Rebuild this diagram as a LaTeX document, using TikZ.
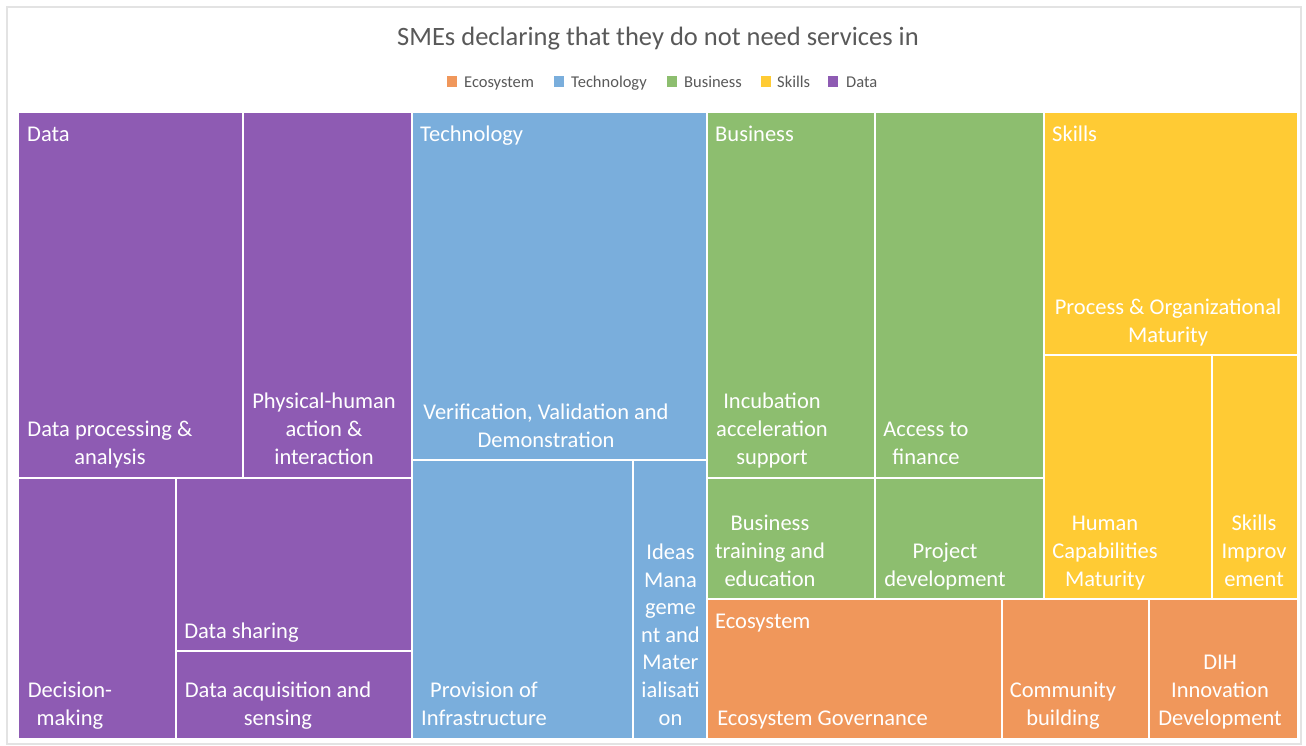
\documentclass[tikz,border=0pt]{standalone}
\usepackage{fontspec}
\setmainfont{Carlito}
\definecolor{cpurple}{HTML}{8E5BB3}
\definecolor{cblue}{HTML}{7AAEDC}
\definecolor{cgreen}{HTML}{8DBE6F}
\definecolor{cyellow}{HTML}{FFCB34}
\definecolor{corange}{HTML}{F0975B}
\definecolor{ctext}{HTML}{595959}
\definecolor{cframe}{HTML}{E3E3E3}
\begin{document}
\begin{tikzpicture}[x=1pt,y=-1pt,
  lbl/.style={anchor=base,align=center,inner sep=0pt,text=white,font=\fontsize{22.5}{27.6}\selectfont},
  cat/.style={anchor=base west,inner sep=0pt,text=white,font=\fontsize{22.5}{27.6}\selectfont},
  legtext/.style={anchor=base west,inner sep=0pt,text=ctext,font=\fontsize{16.5}{20}\selectfont},
  legsq/.style={minimum width=9.5pt,minimum height=11pt,inner sep=0pt,anchor=north west}]
\useasboundingbox (0,0) rectangle (1306,745);
\fill[white] (0,0) rectangle (1306,745);
\draw[cframe,line width=1.5pt] (7,7) rectangle (1301,744);
% title
\node[anchor=base,inner sep=0pt,text=ctext,font=\fontsize{26.5}{32}\selectfont] (title) at (658,45) {SMEs declaring that they do not need services in};
% legend
\node[legsq,fill=corange] (sqE) at (447,76) {};
\node[legtext] (lgE) at (464,87) {Ecosystem};
\node[legsq,fill=cblue] (sqT) at (554,76) {};
\node[legtext] (lgT) at (571,87) {Technology};
\node[legsq,fill=cgreen] (sqB) at (667,76) {};
\node[legtext] (lgB) at (684,87) {Business};
\node[legsq,fill=cyellow] (sqS) at (761,76) {};
\node[legtext] (lgS) at (777,87) {Skills};
\node[legsq,fill=cpurple] (sqD) at (828,76) {};
\node[legtext] (lgD) at (846,87) {Data};
% Data cells
\fill[cpurple] (19,113) rectangle (242,477);
\fill[cpurple] (244,113) rectangle (411,477);
\fill[cpurple] (19,479) rectangle (175,738);
\fill[cpurple] (177,479) rectangle (411,650);
\fill[cpurple] (177,652) rectangle (411,738);
% Technology cells
\fill[cblue] (413,113) rectangle (706,459);
\fill[cblue] (413,461) rectangle (632,738);
\fill[cblue] (634,461) rectangle (706,738);
% Business cells
\fill[cgreen] (708,113) rectangle (874,477);
\fill[cgreen] (876,113) rectangle (1043,477);
\fill[cgreen] (708,479) rectangle (874,598);
\fill[cgreen] (876,479) rectangle (1043,598);
% Skills cells
\fill[cyellow] (1045,113) rectangle (1297,354);
\fill[cyellow] (1045,356) rectangle (1211,598);
\fill[cyellow] (1213,356) rectangle (1297,598);
% Ecosystem cells
\fill[corange] (708,600) rectangle (1001,738);
\fill[corange] (1003,600) rectangle (1148,738);
\fill[corange] (1150,600) rectangle (1297,738);
% category labels
\node[cat] (cData) at (27,141) {Data};
\node[cat] (cTech) at (420,141) {Technology};
\node[cat] (cBus) at (715,141) {Business};
\node[cat] (cSkills) at (1052,141) {Skills};
\node[cat] (cEco) at (715,628) {Ecosystem};
% cell labels
\node[lbl] (l1) at (110,464) {Data processing \&\\analysis};
\node[lbl] (l2) at (324,464) {Physical-human\\action \&\\interaction};
\node[lbl] (l3) at (70,725) {Decision-\\making};
\node[lbl] (l4) at (241.5,638) {Data sharing};
\node[lbl] (l5) at (278,725) {Data acquisition and\\sensing};
\node[lbl] (l6) at (546,447) {Verification, Validation and\\Demonstration};
\node[lbl] (l7) at (484,725) {Provision of\\Infrastructure};
\node[lbl] (l8) at (670.5,725) {Ideas\\Mana\\geme\\nt and\\Mater\\ialisati\\on};
\node[lbl] (l9) at (772,464) {Incubation\\acceleration\\support};
\node[lbl] (l10) at (926,464) {Access to\\finance};
\node[lbl] (l11) at (770,586) {Business\\training and\\education};
\node[lbl] (l12) at (945,586) {Project\\development};
\node[lbl] (l13) at (1168,342) {Process \& Organizational\\Maturity};
\node[lbl] (l14) at (1105,586) {Human\\Capabilities\\Maturity};
\node[lbl] (l15) at (1254,586) {Skills\\Improv\\ement};
\node[lbl] (l16) at (822.5,725) {Ecosystem Governance};
\node[lbl] (l17) at (1063,725) {Community\\building};
\node[lbl] (l18) at (1220,725) {DIH\\Innovation\\Development};
\end{tikzpicture}
\end{document}
